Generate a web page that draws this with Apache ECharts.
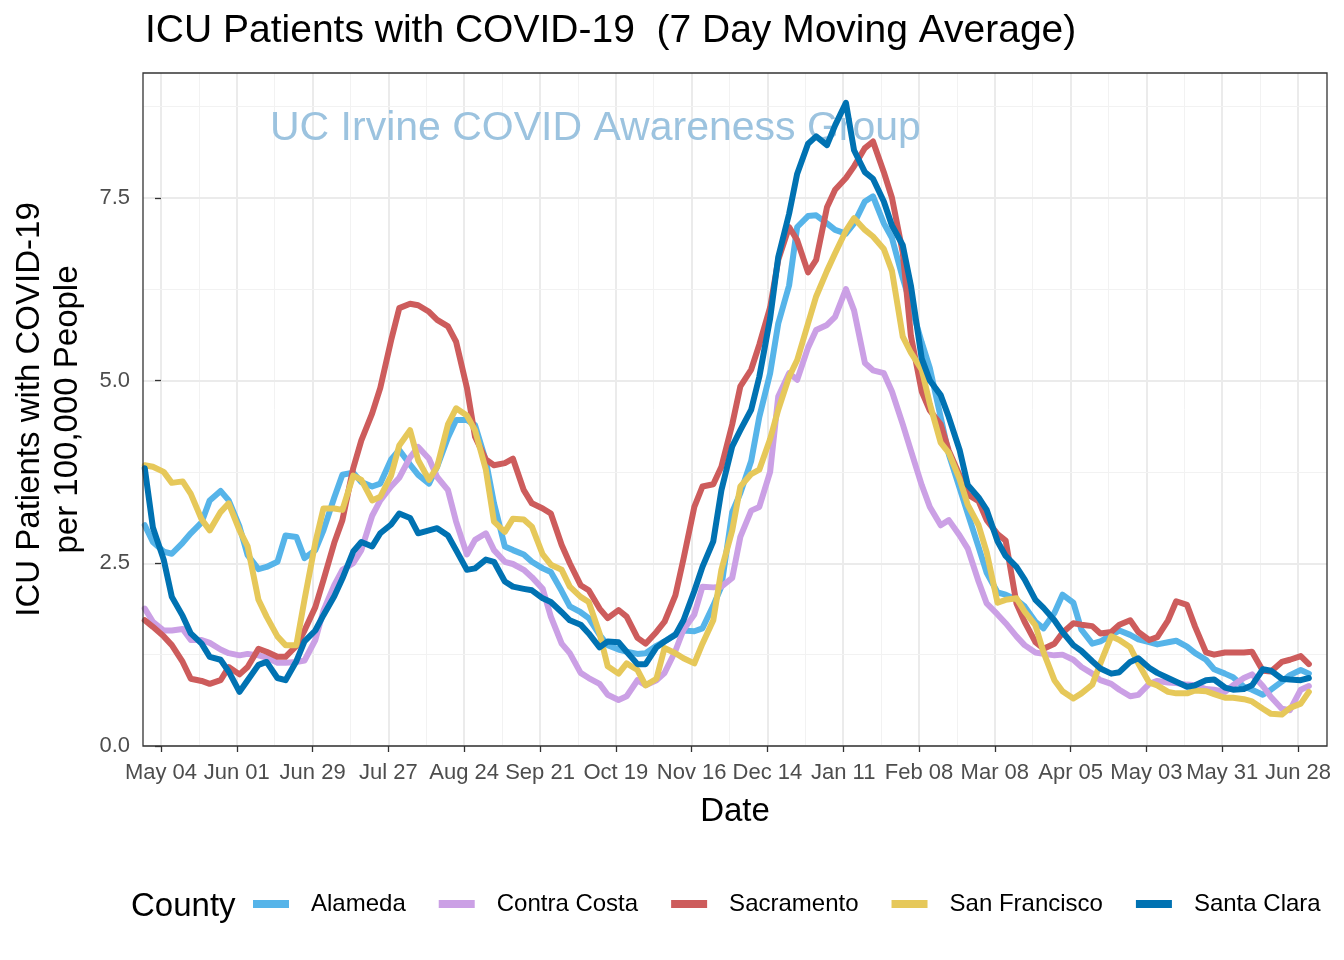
<!DOCTYPE html>
<html><head><meta charset="utf-8">
<script src="https://cdn.jsdelivr.net/npm/echarts@6/dist/echarts.min.js"></script>
<style>html,body{margin:0;padding:0;background:#fff}#chart{width:1344px;height:960px}</style>
</head><body><div id="chart"></div>
<script>
const dates = [
'2020-04-28','2020-05-01','2020-05-05','2020-05-08','2020-05-12','2020-05-15','2020-05-19','2020-05-22','2020-05-26','2020-05-29',
'2020-06-02','2020-06-05','2020-06-09','2020-06-12','2020-06-16','2020-06-19','2020-06-23','2020-06-26','2020-06-30','2020-07-03',
'2020-07-07','2020-07-10','2020-07-14','2020-07-17','2020-07-21','2020-07-24','2020-07-28','2020-07-31','2020-08-04','2020-08-07',
'2020-08-11','2020-08-14','2020-08-18','2020-08-21','2020-08-25','2020-08-28','2020-09-01','2020-09-04','2020-09-08','2020-09-11',
'2020-09-15','2020-09-18','2020-09-22','2020-09-25','2020-09-29','2020-10-02','2020-10-06','2020-10-09','2020-10-13','2020-10-16',
'2020-10-20','2020-10-23','2020-10-27','2020-10-30','2020-11-03','2020-11-06','2020-11-10','2020-11-13','2020-11-17','2020-11-20',
'2020-11-24','2020-11-27','2020-12-01','2020-12-04','2020-12-08','2020-12-11','2020-12-15','2020-12-18','2020-12-22','2020-12-25',
'2020-12-29','2021-01-01','2021-01-05','2021-01-08','2021-01-12','2021-01-15','2021-01-19','2021-01-22','2021-01-26','2021-01-29',
'2021-02-02','2021-02-05','2021-02-09','2021-02-12','2021-02-16','2021-02-19','2021-02-23','2021-02-26','2021-03-02','2021-03-05',
'2021-03-09','2021-03-12','2021-03-16','2021-03-19','2021-03-23','2021-03-26','2021-03-30','2021-04-02','2021-04-06','2021-04-09',
'2021-04-13','2021-04-16','2021-04-20','2021-04-23','2021-04-27','2021-04-30','2021-05-04','2021-05-07','2021-05-11','2021-05-14',
'2021-05-18','2021-05-21','2021-05-25','2021-05-28','2021-06-01','2021-06-04','2021-06-08','2021-06-11','2021-06-15','2021-06-18',
'2021-06-22','2021-06-25','2021-06-29','2021-07-02'];

const alameda = [
3.02,2.79, 2.66,2.63, 2.78,2.91, 3.06,3.36, 3.49,3.36,
3.0,2.61, 2.42,2.45, 2.52,2.88, 2.86,2.57, 2.68,2.95,
3.4,3.71, 3.74,3.61, 3.55,3.59, 3.92,4.05, 3.85,3.71,
3.59,3.82, 4.22,4.46, 4.46,4.39, 3.9,3.32, 2.73,2.68,
2.62,2.52, 2.43,2.38, 2.12,1.91, 1.83,1.75, 1.52,1.38,
1.32,1.29, 1.26,1.27, 1.37,1.43, 1.53,1.58, 1.57,1.61,
1.92,2.18, 3.2,3.46, 3.9,4.5, 5.1,5.78, 6.3,7.1,
7.25,7.26, 7.15,7.06, 7.01,7.15, 7.45,7.52, 7.15,6.95,
6.4,6.03, 5.52,5.17, 4.5,3.99, 3.53,3.18, 2.72,2.37,
2.1,2.07, 2.0,1.91, 1.7,1.61, 1.82,2.07, 1.96,1.59,
1.40,1.43, 1.52,1.58, 1.52,1.46, 1.42,1.39, 1.42,1.44,
1.36,1.27, 1.18,1.05, 0.99,0.94, 0.81,0.77, 0.70,0.77,
0.88,0.97, 1.04,0.99];

const contraCosta = [
1.88,1.70, 1.58,1.58, 1.60,1.45, 1.45,1.41, 1.32,1.27,
1.24,1.26, 1.24,1.21, 1.14,1.14, 1.15,1.17, 1.45,1.85,
2.2,2.41, 2.5,2.68, 3.15,3.36, 3.55,3.67, 3.95,4.09,
3.93,3.68, 3.5,3.07, 2.62,2.82, 2.91,2.68, 2.52,2.49,
2.41,2.31, 2.15,1.77, 1.4,1.27, 1.0,0.93, 0.85,0.70,
0.63,0.68, 0.9,0.83, 0.9,1.0, 1.3,1.59, 1.8,2.18,
2.17,2.18, 2.3,2.86, 3.22,3.27, 3.75,4.78, 5.1,5.01,
5.45,5.69, 5.76,5.87, 6.25,5.96, 5.24,5.14, 5.1,4.85,
4.4,4.04, 3.57,3.27, 3.02,3.09, 2.88,2.70, 2.25,1.95,
1.8,1.68, 1.5,1.38, 1.28,1.26, 1.24,1.25, 1.18,1.08,
0.99,0.90, 0.85,0.77, 0.68,0.70, 0.85,0.89, 0.87,0.86,
0.84,0.83, 0.78,0.77, 0.74,0.83, 0.93,0.98, 0.82,0.67,
0.51,0.49, 0.77,0.82];

const sacramento = [
1.72,1.63, 1.50,1.38, 1.15,0.92, 0.89,0.85, 0.9,1.08,
0.98,1.08, 1.33,1.29, 1.22,1.22, 1.37,1.58, 1.9,2.27,
2.78,3.09, 3.8,4.18, 4.55,4.9, 5.55,5.99, 6.05,6.03,
5.94,5.83, 5.74,5.53, 4.9,4.23, 3.92,3.84, 3.87,3.93,
3.5,3.32, 3.25,3.18, 2.75,2.50, 2.2,2.13, 1.88,1.75,
1.86,1.77, 1.48,1.40, 1.56,1.70, 2.06,2.56, 3.27,3.55,
3.58,3.82, 4.4,4.92, 5.15,5.49, 6.0,6.65, 7.1,6.92,
6.48,6.65, 7.37,7.61, 7.77,7.93, 8.18,8.27, 7.85,7.5,
6.75,5.61, 4.85,4.59, 4.4,4.04, 3.7,3.44, 3.35,3.09,
2.9,2.81, 1.95,1.70, 1.42,1.33, 1.4,1.55, 1.68,1.66,
1.64,1.54, 1.56,1.66, 1.72,1.56, 1.45,1.49, 1.72,1.98,
1.93,1.63, 1.28,1.25, 1.28,1.28, 1.28,1.29, 1.03,1.02,
1.15,1.18, 1.23,1.12];

const sanFrancisco = [
3.84,3.82, 3.75,3.60, 3.62,3.45, 3.1,2.95, 3.2,3.32,
2.95,2.73, 2.0,1.77, 1.5,1.38, 1.38,2.0, 2.78,3.25,
3.25,3.23, 3.7,3.64, 3.36,3.41, 3.7,4.11, 4.32,3.91,
3.64,3.82, 4.4,4.62, 4.52,4.32, 3.78,3.07, 2.93,3.11,
3.1,3.0, 2.62,2.48, 2.41,2.18, 2.04,1.97, 1.54,1.09,
0.99,1.13, 1.04,0.83, 0.92,1.34, 1.27,1.20, 1.13,1.40,
1.72,2.41, 2.95,3.55, 3.72,3.78, 4.2,4.60, 5.05,5.28,
5.78,6.15, 6.5,6.74, 7.05,7.22, 7.06,6.97, 6.8,6.5,
5.6,5.38, 5.15,4.68, 4.15,4.01, 3.65,3.30, 3.02,2.65,
1.96,2.00, 2.02,1.84, 1.65,1.28, 0.9,0.75, 0.65,0.72,
0.84,1.13, 1.5,1.45, 1.35,1.13, 0.87,0.83, 0.74,0.72,
0.72,0.76, 0.75,0.71, 0.66,0.66, 0.64,0.61, 0.51,0.44,
0.43,0.52, 0.58,0.74];

const santaClara = [
3.80,2.99, 2.55,2.04, 1.78,1.54, 1.4,1.22, 1.18,1.02,
0.74,0.90, 1.11,1.15, 0.93,0.90, 1.16,1.43, 1.58,1.79,
2.05,2.29, 2.66,2.79, 2.73,2.91, 3.03,3.18, 3.12,2.91,
2.95,2.98, 2.88,2.68, 2.41,2.43, 2.55,2.52, 2.25,2.18,
2.15,2.13, 2.02,1.97, 1.83,1.72, 1.66,1.54, 1.35,1.43,
1.42,1.29, 1.12,1.12, 1.35,1.43, 1.52,1.72, 2.12,2.45,
2.8,3.50, 4.1,4.32, 4.6,5.05, 5.85,6.69, 7.28,7.83,
8.24,8.34, 8.22,8.49, 8.8,8.15, 7.85,7.76, 7.45,7.12,
6.85,6.30, 5.3,5.0, 4.8,4.50, 4.05,3.57, 3.4,3.23,
2.8,2.60, 2.45,2.28, 2.0,1.89, 1.72,1.56, 1.38,1.30,
1.16,1.06, 0.99,1.01, 1.15,1.20, 1.07,1.00, 0.93,0.88,
0.81,0.83, 0.9,0.91, 0.8,0.77, 0.78,0.83, 1.05,1.03,
0.92,0.91, 0.9,0.93];

const countyNames = ['Alameda','Contra Costa','Sacramento','San Francisco','Santa Clara'];
const countyColors = ['#56B4E9','#CBA0E5','#CD5C5C','#E6C85A','#0072B2'];
const xTickLabels = ['May 04','Jun 01','Jun 29','Jul 27','Aug 24','Sep 21','Oct 19','Nov 16','Dec 14','Jan 11','Feb 08','Mar 08','Apr 05','May 03','May 31','Jun 28'];
const yTickValues = [0, 2.5, 5, 7.5];
const yMinorValues = [1.25, 3.75, 6.25, 8.75];

const FONT = '"Liberation Sans", Arial, Helvetica, sans-serif';
const base = Date.UTC(2020, 4, 4);
const dayOf = s => (Date.parse(s + 'T00:00:00Z') - base) / 86400000;
const xs = dates.map(dayOf);
const X_MIN = -6.65, X_MAX = 430.7, Y_MIN = 0, Y_MAX = 9.207;
const tickDays = xTickLabels.map((_, i) => i * 28);
const minorDays = tickDays.map(d => d + 14).filter(d => d < X_MAX);

const allSeries = [alameda, contraCosta, sacramento, sanFrancisco, santaClara];

const gridLines = [];
tickDays.forEach(d => gridLines.push({xAxis: d, lineStyle: {color: '#EBEBEB', width: 2, type: 'solid'}}));
minorDays.forEach(d => gridLines.push({xAxis: d, lineStyle: {color: '#F2F2F2', width: 1, type: 'solid'}}));
yTickValues.forEach(v => gridLines.push({yAxis: v, lineStyle: {color: '#EBEBEB', width: 2, type: 'solid'}}));
yMinorValues.forEach(v => gridLines.push({yAxis: v, lineStyle: {color: '#F2F2F2', width: 1, type: 'solid'}}));

const series = [{
  name: '__grid', type: 'line', data: [], silent: true, z: 0,
  markLine: {silent: true, symbol: ['none', 'none'], label: {show: false}, z: 0, animation: false, data: gridLines}
}];
countyNames.forEach((n, k) => {
  series.push({
    name: n, type: 'line', showSymbol: false, symbol: 'none', z: 3 + k,
    data: xs.map((x, i) => [x, allSeries[k][i]]),
    lineStyle: {width: 6, color: countyColors[k], cap: 'round', join: 'round'},
    itemStyle: {color: countyColors[k]},
    emphasis: {disabled: true}, animation: false
  });
});

const chart = echarts.init(document.getElementById('chart'), null, {renderer: 'canvas'});
chart.setOption({
  backgroundColor: '#ffffff',
  animation: false,
  textStyle: {fontFamily: FONT},
  title: {
    text: 'ICU Patients with COVID-19  (7 Day Moving Average)',
    left: 145, top: 12, padding: 0,
    textStyle: {fontSize: 39, fontWeight: 'normal', color: '#000', fontFamily: FONT}
  },
  graphic: [
    {type: 'text', left: 270, top: 108, z: 1, silent: true,
     style: {text: 'UC Irvine COVID Awareness Group', fontSize: 41, fill: '#9CC3DF', fontFamily: FONT}},
    {type: 'text', left: 131, top: 890, silent: true,
     style: {text: 'County', fontSize: 33, fill: '#000', fontFamily: FONT}}
  ],
  grid: {left: 143, right: 17, top: 73, bottom: 214, show: true, z: 10,
         backgroundColor: 'transparent', borderColor: '#333333', borderWidth: 1.3,
         containLabel: false, outerBoundsMode: 'none'},
  legend: {
    data: countyNames, left: 253, top: 892, padding: 0, itemGap: 33,
    itemWidth: 36, itemHeight: 8, icon: 'rect',
    textStyle: {fontSize: 24, color: '#000', fontFamily: FONT, padding: [0, 0, 0, 17]},
    selectedMode: false
  },
  xAxis: {
    type: 'value', min: X_MIN, max: X_MAX,
    splitLine: {show: false}, axisLine: {show: false},
    axisTick: {show: true, customValues: tickDays, length: 6, lineStyle: {color: '#333333', width: 1.3}},
    axisLabel: {customValues: tickDays, formatter: v => xTickLabels[Math.round(v / 28)],
                color: '#4D4D4D', fontSize: 22, margin: 16, fontFamily: FONT},
    name: 'Date', nameLocation: 'middle', nameGap: 49,
    nameTextStyle: {fontSize: 33, color: '#000', fontFamily: FONT}
  },
  yAxis: {
    type: 'value', min: Y_MIN, max: Y_MAX,
    splitLine: {show: false}, axisLine: {show: false},
    axisTick: {show: true, customValues: yTickValues, length: 6, lineStyle: {color: '#333333', width: 1.3}},
    axisLabel: {customValues: yTickValues, formatter: v => v.toFixed(1),
                color: '#4D4D4D', fontSize: 22, margin: 13, fontFamily: FONT},
    name: 'ICU Patients with COVID-19\nper 100,000 People', nameLocation: 'middle', nameGap: 56, nameRotate: 90,
    nameTextStyle: {fontSize: 33, lineHeight: 38, color: '#000', fontFamily: FONT}
  },
  series: series
});
</script>
</body></html>
